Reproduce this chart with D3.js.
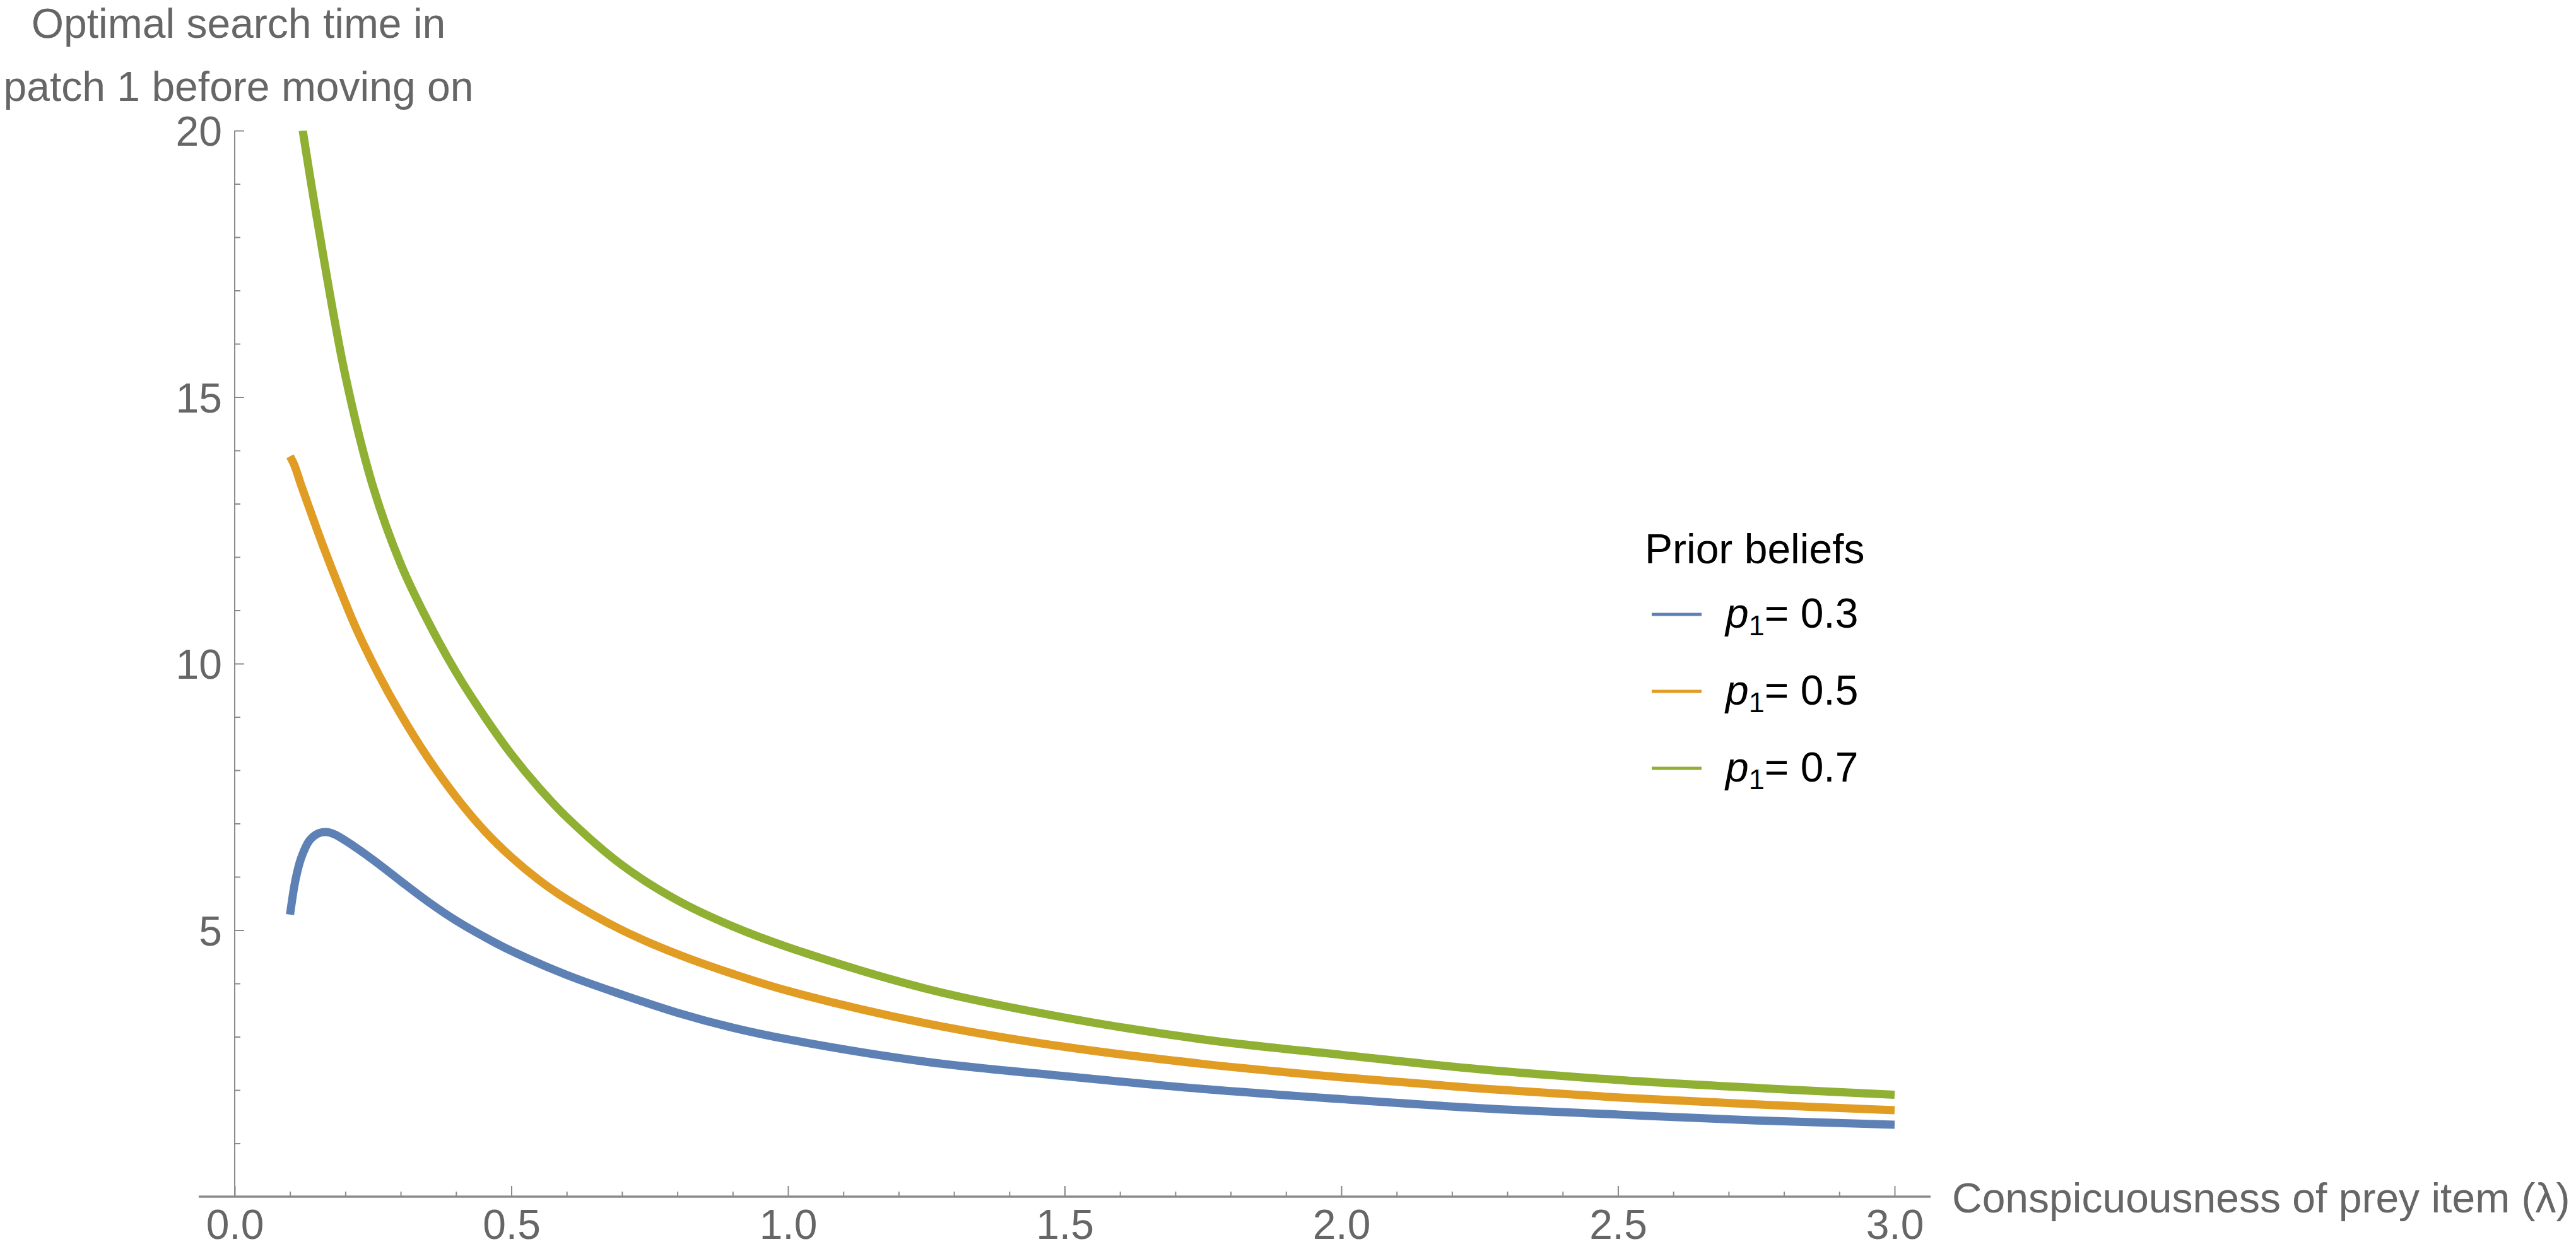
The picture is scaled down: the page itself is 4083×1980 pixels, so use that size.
<!DOCTYPE html>
<html>
<head>
<meta charset="utf-8">
<script src="https://cdn.jsdelivr.net/npm/d3@7/dist/d3.min.js"></script>
<style>
  html, body { margin: 0; padding: 0; background: #ffffff; }
  svg { display: block; }
</style>
</head>
<body>
<svg id="chart" width="4083" height="1980"></svg>
<script>
// ---------------- data ----------------
const lambdaP03 = [0.10, 0.11, 0.12, 0.135, 0.15, 0.165, 0.18, 0.20, 0.25, 0.30, 0.35, 0.40, 0.45, 0.50, 0.60, 0.70, 0.80, 0.90, 1.00, 1.25, 1.50, 1.75, 2.00, 2.25, 2.50, 2.75, 3.00];
const timeP03   = [5.29, 5.95, 6.35, 6.68, 6.81, 6.84, 6.80, 6.68, 6.32, 5.92, 5.53, 5.18, 4.88, 4.61, 4.16, 3.79, 3.45, 3.17, 2.95, 2.53, 2.26, 2.02, 1.83, 1.66, 1.54, 1.43, 1.35];

const lambdaP05 = [0.10, 0.108, 0.12, 0.14, 0.16, 0.19, 0.22, 0.26, 0.30, 0.35, 0.40, 0.45, 0.50, 0.55, 0.60, 0.70, 0.80, 0.90, 1.00, 1.25, 1.50, 1.75, 2.00, 2.25, 2.50, 2.75, 3.00];
const timeP05   = [13.89, 13.72, 13.35, 12.77, 12.20, 11.40, 10.65, 9.80, 9.05, 8.22, 7.50, 6.88, 6.37, 5.94, 5.58, 5.00, 4.55, 4.18, 3.86, 3.25, 2.81, 2.49, 2.24, 2.03, 1.86, 1.73, 1.62];

const lambdaP07 = [0.123, 0.15, 0.20, 0.25, 0.30, 0.35, 0.40, 0.45, 0.50, 0.55, 0.60, 0.70, 0.80, 0.90, 1.00, 1.25, 1.50, 1.75, 2.00, 2.25, 2.50, 2.75, 3.00];
const timeP07   = [20.0, 18.27, 15.40, 13.32, 11.87, 10.78, 9.84, 9.03, 8.30, 7.67, 7.12, 6.22, 5.56, 5.07, 4.68, 3.90, 3.36, 2.95, 2.66, 2.39, 2.19, 2.04, 1.91];

const priorValues  = ["0.3", "0.5", "0.7"];
const seriesColors = ["#5e81b5", "#e19c24", "#8fb032"];

const xMajorTicks = [0, 0.5, 1.0, 1.5, 2.0, 2.5, 3.0];
const yMajorTicks = [5, 10, 15, 20];
const xDomain = [0, 3];
const yDomain = [0, 20];

const yTitleLines = ["Optimal search time in", "patch 1 before moving on"];
const xTitle = "Conspicuousness of prey item (\u03bb)";
const legendTitle = "Prior beliefs";

// ---------------- drawing ----------------
const svg = d3.select("#chart");
const FONT = "'Liberation Sans', Arial, Helvetica, sans-serif";
const AXIS_GRAY = "#8a8a8a";
const TEXT_GRAY = "#666666";

const x = d3.scaleLinear().domain(xDomain).range([372, 3003]);
const y = d3.scaleLinear().domain(yDomain).range([1897, 207]);

const series = [
  { xs: lambdaP03, ys: timeP03 },
  { xs: lambdaP05, ys: timeP05 },
  { xs: lambdaP07, ys: timeP07 }
].map((s, i) => ({
  color: seriesColors[i],
  label: priorValues[i],
  points: s.xs.map((l, j) => ({ l: l, t: s.ys[j] }))
}));

// clip to plot range
svg.append("defs").append("clipPath").attr("id", "plotClip")
  .append("rect")
  .attr("x", x(xDomain[0]) - 40).attr("y", y(yDomain[1]))
  .attr("width", x(xDomain[1]) - x(xDomain[0]) + 80)
  .attr("height", y(yDomain[0]) - y(yDomain[1]));

// axes lines
const xPad = 0.065;
svg.append("line")
  .attr("x1", x(xDomain[0] - xPad)).attr("x2", x(xDomain[1] + xPad))
  .attr("y1", y(0)).attr("y2", y(0))
  .attr("stroke", AXIS_GRAY).attr("stroke-width", 3.5);
svg.append("line")
  .attr("x1", x(0)).attr("x2", x(0))
  .attr("y1", y(yDomain[0])).attr("y2", y(yDomain[1]))
  .attr("stroke", AXIS_GRAY).attr("stroke-width", 2);

// x axis ticks
const xMinor = d3.range(1, 30).map(d => d / 10).filter(d => Math.abs(d * 2 - Math.round(d * 2)) > 1e-6);
const gxMinor = svg.append("g").attr("transform", `translate(0,${y(0)})`)
  .call(d3.axisBottom(x).tickValues(xMinor).tickSize(-8).tickFormat(""));
const gxMajor = svg.append("g").attr("transform", `translate(0,${y(0)})`)
  .call(d3.axisBottom(x).tickValues(xMajorTicks).tickSize(-17).tickPadding(20).tickFormat(d3.format(".1f")));

// y axis ticks
const yMinor = d3.range(1, 20).filter(d => d % 5 !== 0);
const gyMinor = svg.append("g").attr("transform", `translate(${x(0)},0)`)
  .call(d3.axisLeft(y).tickValues(yMinor).tickSize(-9).tickFormat(""));
const gyMajor = svg.append("g").attr("transform", `translate(${x(0)},0)`)
  .call(d3.axisLeft(y).tickValues(yMajorTicks).tickSize(-15).tickPadding(20).tickFormat(d3.format("d")));

[gxMinor, gxMajor, gyMinor, gyMajor].forEach(g => {
  g.select(".domain").remove();
  g.selectAll(".tick line").attr("stroke", AXIS_GRAY).attr("stroke-width", 2);
  g.selectAll(".tick text")
    .attr("fill", TEXT_GRAY)
    .style("font-family", FONT)
    .style("font-size", "66px");
});
gyMajor.selectAll(".tick text").attr("dy", "0.36em");

// curves
const line = d3.line()
  .x(d => x(d.l))
  .y(d => y(d.t))
  .curve(d3.curveCatmullRom.alpha(0.5));

svg.append("g").attr("clip-path", "url(#plotClip)")
  .selectAll("path")
  .data(series)
  .join("path")
  .attr("d", d => line(d.points))
  .attr("fill", "none")
  .attr("stroke", d => d.color)
  .attr("stroke-width", 13)
  .attr("stroke-linecap", "butt")
  .attr("stroke-linejoin", "round");

// y axis title
svg.append("g").selectAll("text")
  .data(yTitleLines)
  .join("text")
  .attr("x", x(0) + 6)
  .attr("y", (d, i) => 60 + i * 100)
  .attr("text-anchor", "middle")
  .attr("fill", TEXT_GRAY)
  .style("font-family", FONT)
  .style("font-size", "66px")
  .text(d => d);

// x axis title
svg.append("text")
  .attr("x", 3094)
  .attr("y", y(0) + 25)
  .attr("fill", TEXT_GRAY)
  .style("font-family", FONT)
  .style("font-size", "66px")
  .text(xTitle);

// legend
const legend = svg.append("g").attr("transform", "translate(2607,0)");
legend.append("text")
  .attr("x", 0).attr("y", 893)
  .attr("fill", "#000")
  .style("font-family", FONT)
  .style("font-size", "66px")
  .text(legendTitle);

const rows = legend.selectAll("g.row")
  .data(series)
  .join("g")
  .attr("class", "row")
  .attr("transform", (d, i) => `translate(0,${974 + i * 122})`);

rows.append("line")
  .attr("x1", 11).attr("x2", 90)
  .attr("y1", 0).attr("y2", 0)
  .attr("stroke", d => d.color)
  .attr("stroke-width", 5);

const lt = rows.append("text")
  .attr("x", 128).attr("y", 21)
  .attr("fill", "#000")
  .style("font-family", FONT)
  .style("font-size", "66px");
lt.append("tspan").style("font-style", "italic").text("p");
lt.append("tspan").attr("dy", 12).style("font-size", "45px").text("1");
lt.append("tspan").attr("dy", -12).text(d => "= " + d.label);
</script>
</body>
</html>
